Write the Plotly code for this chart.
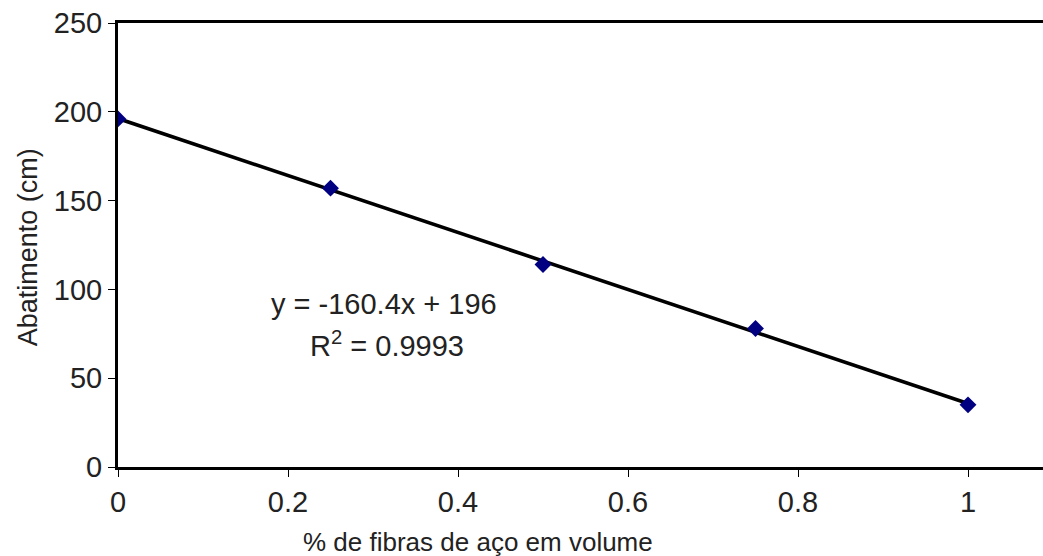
import numpy as np
import plotly.graph_objects as go

fibras = [0, 0.25, 0.5, 0.75, 1]
abatimento = [196, 157, 114, 78, 35]
x_ticks = [0, 0.2, 0.4, 0.6, 0.8, 1]
x_tick_labels = ["0", "0.2", "0.4", "0.6", "0.8", "1"]
y_ticks = [0, 50, 100, 150, 200, 250]
eq_text = "y = -160.4x + 196"
r2_text = "R<sup>2</sup> = 0.9993"

slope, intercept = np.polyfit(fibras, abatimento, 1)
fit_x = [min(fibras), max(fibras)]
fit_y = [slope * v + intercept for v in fit_x]

fig = go.Figure()
fig.add_trace(go.Scatter(x=fit_x, y=fit_y, mode="lines",
                         line=dict(color="black", width=3.6), showlegend=False))
fig.add_trace(go.Scatter(x=fibras, y=abatimento, mode="markers",
                         marker=dict(symbol="diamond", color="#000080", size=13,
                                     line=dict(width=0)), showlegend=False))

fam = "Liberation Sans, Arial, sans-serif"
txt_col = "#222222"
fig.add_annotation(x=0.313, y=92, xref="x", yref="y", showarrow=False,
                   text=eq_text, font=dict(family=fam, size=29, color=txt_col))
fig.add_annotation(x=0.316, y=69, xref="x", yref="y", showarrow=False,
                   text=r2_text, font=dict(family=fam, size=29, color=txt_col))
fig.add_annotation(x=(478 - 118) / 925, y=-0.169, xref="paper", yref="paper",
                   showarrow=False, text="% de fibras de aço em volume",
                   font=dict(family=fam, size=26, color=txt_col),
                   xanchor="center", yanchor="middle")
fig.add_annotation(x=(28 - 118) / 925, y=0.495, xref="paper", yref="paper",
                   showarrow=False, text="Abatimento (cm)", textangle=-90,
                   font=dict(family=fam, size=27, color=txt_col),
                   xanchor="center", yanchor="middle")

fig.update_layout(
    width=1043, height=556,
    margin=dict(l=118, r=0, t=23, b=89),
    plot_bgcolor="white", paper_bgcolor="white",
    font=dict(family=fam, size=29, color=txt_col),
    xaxis=dict(range=[0, (1043 - 118) / 850], tickvals=x_ticks, ticktext=x_tick_labels,
               showgrid=False, zeroline=False, showline=True, linecolor="black",
               linewidth=3, mirror=True, ticks="outside", ticklen=7, tickwidth=1.3,
               tickcolor="black", tickfont=dict(family=fam, size=29, color=txt_col)),
    yaxis=dict(range=[0, 250], tickvals=y_ticks, showgrid=False, zeroline=False,
               showline=True, linecolor="black", linewidth=3, ticks="outside",
               ticklen=7, tickwidth=1.3, tickcolor="black",
               tickfont=dict(family=fam, size=29, color=txt_col)),
)

fig.write_html("out.html")
